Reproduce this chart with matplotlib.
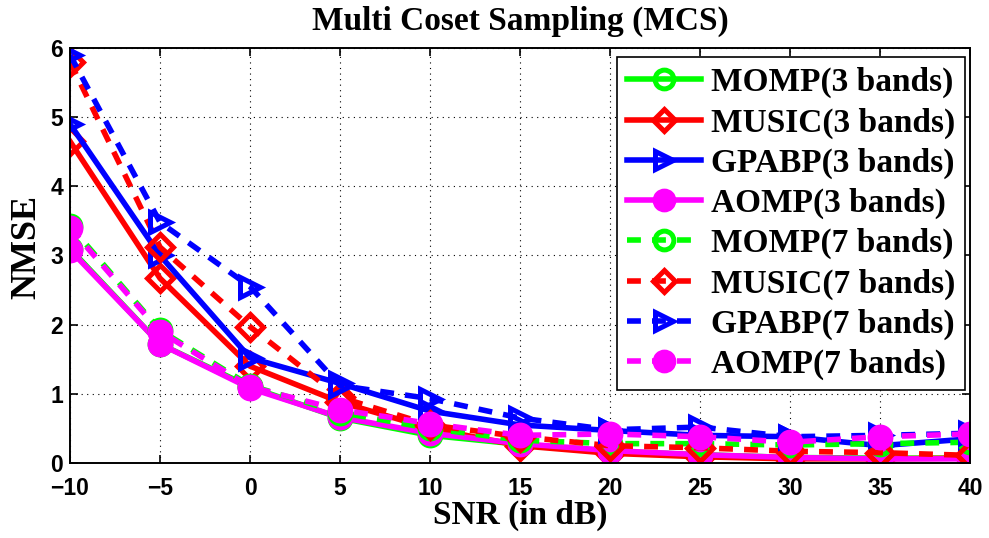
import matplotlib
matplotlib.use("Agg")
import matplotlib.pyplot as plt

snr = [-10, -5, 0, 5, 10, 15, 20, 25, 30, 35, 40]

momp3 = [3.10, 1.72, 1.10, 0.65, 0.40, 0.27, 0.17, 0.12, 0.08, 0.07, 0.07]
music3 = [4.65, 2.67, 1.40, 0.88, 0.50, 0.25, 0.14, 0.09, 0.06, 0.06, 0.07]
gpabp3 = [4.90, 3.00, 1.52, 1.15, 0.75, 0.55, 0.47, 0.40, 0.38, 0.25, 0.35]
aomp3 = [3.08, 1.72, 1.08, 0.66, 0.43, 0.28, 0.18, 0.12, 0.08, 0.06, 0.06]
momp7 = [3.43, 1.92, 1.12, 0.73, 0.50, 0.33, 0.28, 0.28, 0.26, 0.28, 0.30]
music7 = [5.80, 3.12, 1.97, 0.95, 0.55, 0.38, 0.25, 0.22, 0.17, 0.15, 0.11]
gpabp7 = [5.90, 3.48, 2.55, 1.12, 0.93, 0.65, 0.48, 0.52, 0.38, 0.40, 0.43]
aomp7 = [3.40, 1.90, 1.10, 0.77, 0.57, 0.40, 0.42, 0.38, 0.30, 0.38, 0.42]

labels = ["MOMP(3 bands)", "MUSIC(3 bands)", "GPABP(3 bands)", "AOMP(3 bands)",
          "MOMP(7 bands)", "MUSIC(7 bands)", "GPABP(7 bands)", "AOMP(7 bands)"]

xticks = [-10, -5, 0, 5, 10, 15, 20, 25, 30, 35, 40]
yticks = [0, 1, 2, 3, 4, 5, 6]

fig = plt.figure(figsize=(9.89, 5.38), dpi=100)
ax = fig.add_axes([0.0708, 0.1394, 0.9102, 0.7714])

lw = 4.0
ms = 15
mew = 3.6
series = [
    (momp3, "#00ff00", "-", "o", "none"),
    (music3, "#ff0000", "-", "D", "none"),
    (gpabp3, "#0000ff", "-", ">", "none"),
    (aomp3, "#ff00ff", "-", "o", "#ff00ff"),
    (momp7, "#00ff00", "--", "o", "none"),
    (music7, "#ff0000", "--", "D", "none"),
    (gpabp7, "#0000ff", "--", ">", "none"),
    (aomp7, "#ff00ff", "--", "o", "#ff00ff"),
]
for (vals, c, ls, mk, mfc), lab in zip(series, labels):
    msz = ms if mk != "D" else ms * 0.85
    ax.plot(snr, vals, color=c, linestyle=ls, marker=mk, markersize=msz,
            markerfacecolor=mfc, markeredgecolor=c, markeredgewidth=mew,
            linewidth=lw, label=lab, dashes=(2.5, 2.0) if ls == "--" else (None, None))

ax.set_xlim(-10, 40)
ax.set_ylim(0, 6)
ax.set_xticks(xticks)
ax.set_yticks(yticks)
ax.set_xticklabels(["\u2212" + str(-t) if t < 0 else str(t) for t in xticks])
for lbl in ax.get_xticklabels() + ax.get_yticklabels():
    lbl.set_fontfamily("Liberation Sans")
    lbl.set_fontweight("bold")
    lbl.set_fontsize(16.5)
ax.tick_params(direction="in", top=True, right=True, length=6, width=1.2)
ax.tick_params(axis="x", pad=10)
ax.tick_params(axis="y", pad=5)
ax.grid(True, linestyle=(0, (1, 4)), color="black", linewidth=0.8)
for s in ax.spines.values():
    s.set_linewidth(1.4)

serif = "Liberation Serif"
ax.set_title("Multi Coset Sampling (MCS)", fontfamily=serif, fontweight="bold",
             fontsize=24, pad=13)
ax.set_xlabel("SNR (in dB)", fontfamily=serif, fontweight="bold", fontsize=24, labelpad=0)
ax.set_ylabel("NMSE", fontfamily=serif, fontweight="bold", fontsize=26)
ax.yaxis.set_label_coords(-0.03, 0.52)

leg = ax.legend(loc="upper right", bbox_to_anchor=(0.9944, 0.978),
                prop={"family": serif, "weight": "bold", "size": 24},
                frameon=True, fancybox=False, framealpha=1, edgecolor="black",
                handlelength=2.2, borderpad=0.3, labelspacing=0.27, handletextpad=0.3,
                borderaxespad=0.0, markerscale=0.9)
leg.get_frame().set_linewidth(1.2)

fig.savefig("out.png", dpi=100)
